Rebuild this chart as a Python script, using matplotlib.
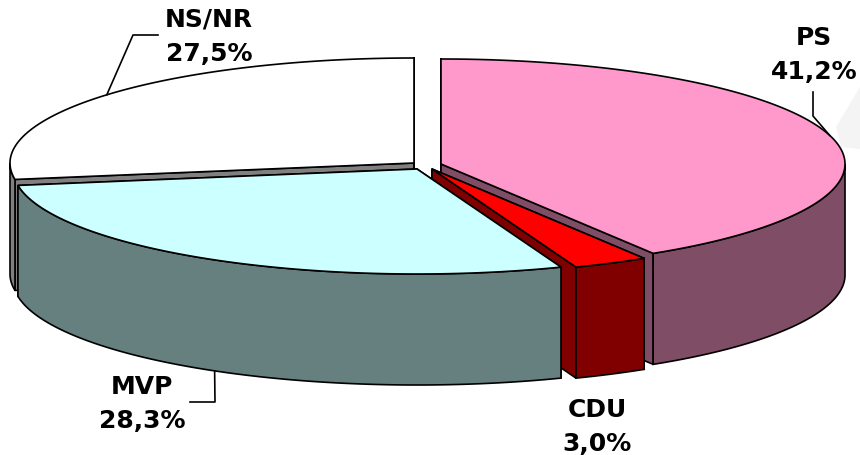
import matplotlib
matplotlib.use('Agg')
import matplotlib.pyplot as plt
import numpy as np

labels = ['PS', 'CDU', 'MVP', 'NS/NR']
values = [41.2, 3.0, 28.3, 27.5]
value_labels = ['41,2%', '3,0%', '28,3%', '27,5%']
top_colors = ['#FF99CC', '#FF0000', '#CCFFFF', '#FFFFFF']
side_colors = ['#804D66', '#800000', '#668080', '#808080']

# pie layout in pixels
rx = 404
ry = 105
depth = 111
centers = {'PS': (441, 165), 'CDU': (432, 170), 'MVP': (417, 170), 'NS/NR': (414, 164)}
label_pos = {'PS': (814, 55), 'CDU': (597, 427), 'MVP': (142, 404), 'NS/NR': (209, 37)}
# elbow points of the leader lines, None means no leader
leader_start = {'PS': [(813, 93), (813, 117)], 'CDU': None,
                'MVP': [(190, 403), (215, 403)], 'NS/NR': [(158, 36), (133, 36)]}

fig = plt.figure(figsize=(8.6, 4.56), dpi=100)
ax = fig.add_axes([0, 0, 1, 1])
ax.set_xlim(0, 860)
ax.set_ylim(456, 0)
ax.axis('off')

# faint watermark at the right edge
ax.fill([860, 836, 841, 860], [88, 128, 148, 150], fc='#F4F4F4', ec='none', zorder=0)


def rim(name, t):
    cx, cy = centers[name]
    return cx + rx * np.sin(t), cy - ry * np.cos(t)


ends = np.cumsum(values) / sum(values) * 2 * np.pi
starts = ends - np.array(values) / sum(values) * 2 * np.pi
slices = dict(zip(labels, zip(starts, ends)))

# back to front
for name in ['NS/NR', 'PS', 'CDU', 'MVP']:
    i = labels.index(name)
    t0, t1 = slices[name]
    cx, cy = centers[name]
    t = np.linspace(t0, t1, 200)
    x, y = rim(name, t)

    # cut faces
    for a in [t0, t1]:
        ex, ey = rim(name, a)
        ax.fill([cx, ex, ex, cx], [cy, ey, ey + depth, cy + depth],
                fc=side_colors[i], ec='black', lw=1.2, joinstyle='round')

    # outer wall, only the front half of the rim shows
    front = (t >= np.pi / 2) & (t <= 3 * np.pi / 2)
    if front.any():
        fx, fy = x[front], y[front]
        ax.fill(np.r_[fx, fx[::-1]], np.r_[fy, fy[::-1] + depth],
                fc=side_colors[i], ec='black', lw=1.2)

    # top
    ax.fill(np.r_[cx, x], np.r_[cy, y], fc=top_colors[i], ec='black', lw=1.2)

    # leader
    if leader_start[name]:
        mid = (t0 + t1) / 2
        mx, my = rim(name, mid)
        if np.cos(mid) < 0:
            my = my + depth
        px = [p[0] for p in leader_start[name]] + [mx]
        py = [p[1] for p in leader_start[name]] + [my]
        ax.plot(px, py, c='black', lw=1.2)

    lx, ly = label_pos[name]
    ax.text(lx, ly, name + '\n' + value_labels[i], ha='center', va='center',
            fontsize=18, fontweight='bold', linespacing=1.55, color='black')

fig.savefig('out.png', dpi=100)
